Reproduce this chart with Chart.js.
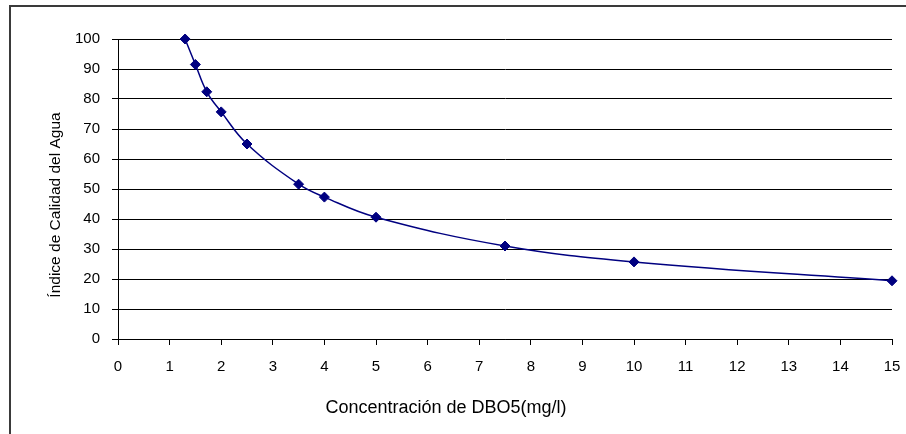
<!DOCTYPE html>
<html><head><meta charset="utf-8">
<script src="https://cdn.jsdelivr.net/npm/chart.js@4/dist/chart.umd.min.js"></script>
<style>html,body{margin:0;padding:0;background:#fff}canvas{display:block}</style>
</head><body>
<canvas id="c" width="906" height="434"></canvas>
<script>
const concentracion = [1.3, 1.5, 1.72, 2, 2.5, 3.5, 4, 5, 7.5, 10, 15];
const indice = [100, 91.5, 82.4, 75.7, 65, 51.6, 47.3, 40.6, 31, 25.7, 19.4];
const xTitle = 'Concentración de DBO5(mg/l)';
const yTitle = 'Índice de Calidad del Agua';
const xRange = [0, 15];
const yRange = [0, 100];

const points = concentracion.map((x, i) => ({ x: x, y: indice[i] }));
const fam = '"Liberation Sans", Arial, sans-serif';
const tickFont = { family: fam, size: 15 };

const frame = {
  id: 'frame',
  beforeDraw(chart) {
    const ctx = chart.ctx;
    ctx.save();
    ctx.fillStyle = '#fff';
    ctx.fillRect(0, 0, chart.width, chart.height);
    ctx.strokeStyle = '#3a3a3a';
    ctx.lineWidth = 2;
    ctx.beginPath();
    ctx.moveTo(10, chart.height + 2);
    ctx.lineTo(10, 6);
    ctx.lineTo(chart.width + 2, 6);
    ctx.stroke();
    ctx.restore();
  },
  afterDraw(chart) {
    const ctx = chart.ctx;
    ctx.save();
    ctx.fillStyle = '#000';
    ctx.textAlign = 'center';
    ctx.textBaseline = 'alphabetic';
    ctx.font = '18px ' + fam;
    ctx.fillText(xTitle, 446, 413);
    ctx.translate(60, 205);
    ctx.rotate(-Math.PI / 2);
    ctx.font = '15.5px ' + fam;
    ctx.fillText(yTitle, 0, 0);
    ctx.restore();
  }
};

new Chart(document.getElementById('c'), {
  type: 'line',
  data: {
    datasets: [{
      data: points,
      borderColor: '#000080',
      backgroundColor: '#000080',
      borderWidth: 1.5,
      tension: 0.4,
      pointStyle: 'rectRot',
      pointRadius: 5,
      pointBorderWidth: 1,
      pointBackgroundColor: '#000080',
      pointBorderColor: '#000080',
      clip: false,
      fill: false
    }]
  },
  options: {
    responsive: false,
    animation: false,
    devicePixelRatio: 1,
    layout: { padding: { left: 46, right: 14, top: 39, bottom: 10 } },
    plugins: { legend: { display: false }, tooltip: { enabled: false } },
    scales: {
      x: {
        type: 'linear',
        min: xRange[0], max: xRange[1],
        afterFit(s) { s.height = 85; s.paddingLeft = 0; s.paddingRight = 0; },
        ticks: { stepSize: 1, color: '#000', font: tickFont, padding: 13, maxRotation: 0 },
        grid: { drawOnChartArea: false, drawTicks: true, tickLength: 6, color: '#000' },
        border: { display: true, color: '#000', width: 1 },
        title: { display: false }
      },
      y: {
        type: 'linear',
        min: yRange[0], max: yRange[1],
        afterFit(s) { s.width = 72; s.paddingTop = 0; s.paddingBottom = 0; },
        ticks: { stepSize: 10, color: '#000', font: tickFont, padding: 12 },
        grid: { color: '#000', tickLength: 6 },
        border: { display: true, color: '#000', width: 1 },
        title: { display: false }
      }
    }
  },
  plugins: [frame]
});
</script>
</body></html>
